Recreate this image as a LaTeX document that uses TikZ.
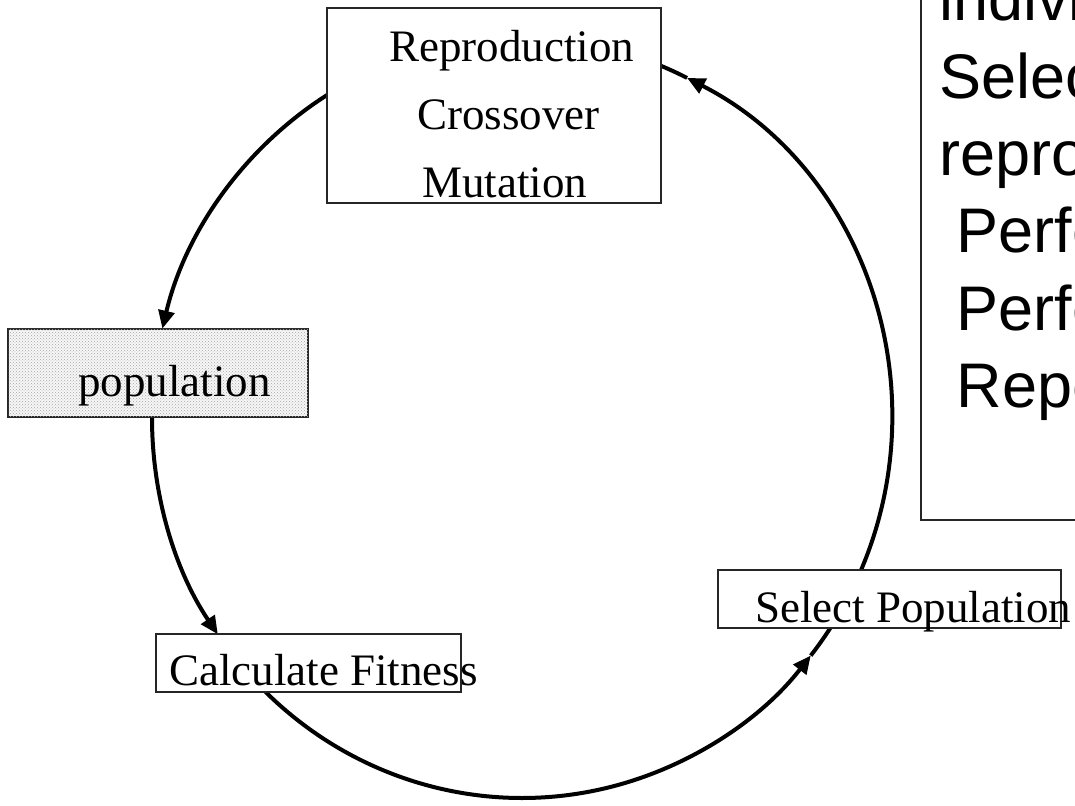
\documentclass[tikz,border=0pt]{standalone}
\usepackage{fontspec}
\setmainfont{Liberation Serif}
\newfontfamily\arialfont{Liberation Sans}
\usetikzlibrary{arrows.meta,calc,patterns}

\tikzset{
  box/.style={draw=black!85, line width=1.5pt, fill=white, inner sep=0pt,
              minimum width=#1, anchor=center},
  label/.style={anchor=base west, inner sep=0pt, font=\fontsize{45}{54}\selectfont},
  note/.style={anchor=base west, inner sep=0pt, font=\arialfont\fontsize{63}{75}\selectfont},
  conn/.style={line width=4pt},
  tip/.style={conn, -{Triangle[length=18pt,width=16pt]}},
  ring/.style={x radius=370pt, y radius=380pt}
}

\begin{document}
\begin{tikzpicture}[x=1pt,y=1pt]
\useasboundingbox (0,0) rectangle (1075,805);

% centre of the elliptical cycle
\coordinate (c) at (522,387);

% points where the cycle meets the boxes
\coordinate (reproW) at ($(c)+(121.8:370pt and 380pt)$);
\coordinate (popS)   at ($(c)+(179.8:370pt and 380pt)$);
\coordinate (calcS)  at ($(c)+(226:370pt and 380pt)$);
\coordinate (selN)   at ($(c)+(336.5:370pt and 380pt)$);

% cycle arcs
\draw[tip]  (reproW) arc[ring, start angle=121.8, end angle=166.4] coordinate (popN);
\draw[tip]  (popS)   arc[ring, start angle=179.8, end angle=214.7] coordinate (calcN);
\draw[tip]  (calcS)  arc[ring, start angle=226,   end angle=321.3] coordinate (selTip);
\draw[conn] (selTip) arc[ring, start angle=321.3, end angle=326.4] coordinate (selS);
\draw[tip]  (selN)   arc[ring, start angle=336.5, end angle=423.5] coordinate (reproTip);
\draw[conn] (reproTip) arc[ring, start angle=423.5, end angle=427.9] coordinate (reproE);

% boxes
\node[box=334pt, minimum height=195pt] (repro) at (494,699.5) {};
\node[box=300pt, minimum height=88pt, fill=gray!6,
      postaction={pattern=crosshatch dots, pattern color=gray!70}] (pop) at (158,432) {};
\node[box=305pt, minimum height=58pt] (calc) at (308.5,142) {};
\node[box=343pt, minimum height=58pt] (sel) at (889.5,206) {};
\draw[line width=2pt, draw=black!85] (921,830) -- (921,285) -- (1100,285) coordinate (stepsBR);

% box texts
\node[label] (t1) at (389,743) {Reproduction};
\node[label] (t2) at (417,675) {Crossover};
\node[label] (t3) at (422,607) {Mutation};
\node[label] (t4) at (78,408) {population};
\node[label] (t5) at (169,119) {Calculate Fitness};
\node[label] (t6) at (755,182) {Select Population};

% algorithm steps
\node[note] (s1) at (939,784)   {individuals};
\node[note] (s2) at (939,706.7) {Select};
\node[note] (s3) at (939,629.4) {reproduction};
\node[note] (s4) at (939,552.1) {\hspace*{0.278em}Perform};
\node[note] (s5) at (939,474.8) {\hspace*{0.278em}Perform};
\node[note] (s6) at (939,397.5) {\hspace*{0.278em}Repeat};
\end{tikzpicture}
\end{document}
